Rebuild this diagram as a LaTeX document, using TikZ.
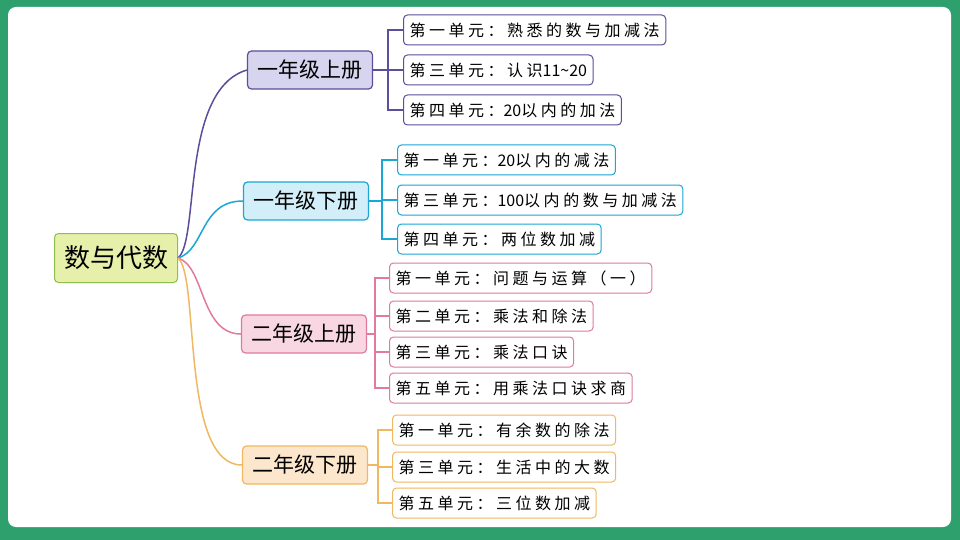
\documentclass[tikz,border=0pt]{standalone}
\usepackage{fontspec}
\setmainfont{Noto Sans CJK SC}
\usetikzlibrary{positioning}
\definecolor{FRAME}{RGB}{46,160,110}
\definecolor{ROOTF}{RGB}{230,240,170}
\definecolor{ROOTD}{RGB}{140,192,76}
\definecolor{PURF}{RGB}{214,212,238}
\definecolor{PURD}{RGB}{91,78,154}
\definecolor{BLUF}{RGB}{210,238,248}
\definecolor{BLUD}{RGB}{26,167,214}
\definecolor{PINF}{RGB}{248,214,226}
\definecolor{PIND}{RGB}{224,122,158}
\definecolor{ORAF}{RGB}{252,230,204}
\definecolor{ORAD}{RGB}{240,184,96}
\tikzset{
  rootbox/.style={draw=ROOTD, fill=ROOTF, rounded corners=4, line width=1,
    minimum width=123, minimum height=49, font=\fontsize{26}{26}\selectfont},
  gradebox/.style={draw=#1D, fill=#1F, rounded corners=4, line width=1.2,
    minimum height=38, inner xsep=10, font=\fontsize{21}{21}\selectfont},
  unitbox/.style={draw=#1D, fill=white, rounded corners=4, line width=1,
    anchor=west, minimum height=30, inner xsep=6,
    font=\fontsize{16}{16}\selectfont\addfontfeature{LetterSpace=22}},
  branch/.style={draw=#1D, line width=1.5},
  twig/.style={draw=#1D, line width=1.2}
}
\begin{document}
\begin{tikzpicture}[x=1pt,y=-1pt]
\fill[FRAME] (0,0) rectangle (960,540);
\fill[white, rounded corners=8] (8,7) rectangle (951,527);
\useasboundingbox (0,0) rectangle (960,540);

\node[rootbox] (root) at (116,258) {数与代数};

\node[gradebox=PUR] (g1) at (310,70) {一年级上册};
\node[gradebox=BLU] (g2) at (306,201) {一年级下册};
\node[gradebox=PIN] (g3) at (304,334) {二年级上册};
\node[gradebox=ORA] (g4) at (305,465) {二年级下册};

\draw[branch=PUR] (root.east) .. controls (200,240) and (180,90) .. (g1.west);
\draw[branch=BLU] (root.east) .. controls (205,250) and (200,201) .. (g2.west);
\draw[branch=PIN] (root.east) .. controls (205,266) and (200,334) .. (g3.west);
\draw[branch=ORA] (root.east) .. controls (200,276) and (180,465) .. (g4.west);

% first grade, first term
\node[unitbox=PUR] (u11) at (403,30) {第一单元：熟悉的数与加减法};
\node[unitbox=PUR] (u12) at (403,70) {第三单元：认识{\addfontfeature{LetterSpace=0}11\textasciitilde20}};
\node[unitbox=PUR] (u13) at (403,110) {第四单元：{\addfontfeature{LetterSpace=0}20}以内的加法};
\coordinate (b1) at (388,70);
\draw[twig=PUR] (g1.east) -- (b1);
\foreach \u in {u11,u12,u13} \draw[twig=PUR] (b1) |- (\u.west);

% first grade, second term
\node[unitbox=BLU] (u21) at (397,160) {第一单元：{\addfontfeature{LetterSpace=0}20}以内的减法};
\node[unitbox=BLU] (u22) at (397,200) {第三单元：{\addfontfeature{LetterSpace=0}100}以内的数与加减法};
\node[unitbox=BLU] (u23) at (397,239) {第四单元：两位数加减};
\coordinate (b2) at (382,201);
\draw[twig=BLU] (g2.east) -- (b2);
\foreach \u in {u21,u22,u23} \draw[twig=BLU] (b2) |- (\u.west);

% second grade, first term
\node[unitbox=PIN] (u31) at (389,278) {第一单元：问题与运算（一）};
\node[unitbox=PIN] (u32) at (389,316) {第二单元：乘法和除法};
\node[unitbox=PIN] (u33) at (389,352) {第三单元：乘法口诀};
\node[unitbox=PIN] (u34) at (389,388) {第五单元：用乘法口诀求商};
\coordinate (b3) at (375,334);
\draw[twig=PIN] (g3.east) -- (b3);
\foreach \u in {u31,u32,u33,u34} \draw[twig=PIN] (b3) |- (\u.west);

% second grade, second term
\node[unitbox=ORA] (u41) at (392,430) {第一单元：有余数的除法};
\node[unitbox=ORA] (u42) at (392,467) {第三单元：生活中的大数};
\node[unitbox=ORA] (u43) at (392,503) {第五单元：三位数加减};
\coordinate (b4) at (378,465);
\draw[twig=ORA] (g4.east) -- (b4);
\foreach \u in {u41,u42,u43} \draw[twig=ORA] (b4) |- (\u.west);
\end{tikzpicture}
\end{document}
